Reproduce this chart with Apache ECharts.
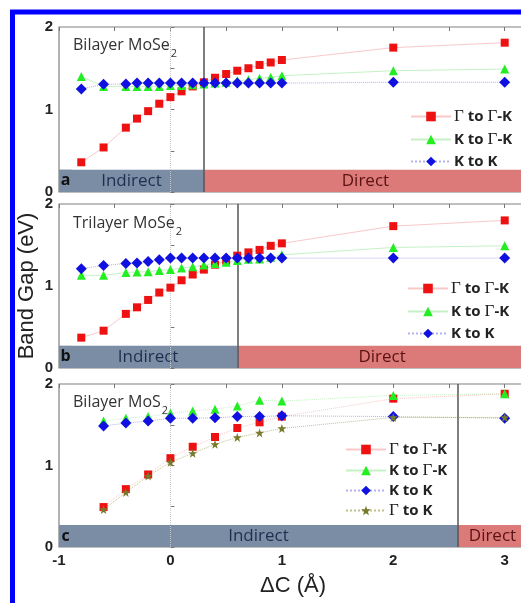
<!DOCTYPE html>
<html><head><meta charset="utf-8">
<script src="https://cdn.jsdelivr.net/npm/echarts@6/dist/echarts.min.js"></script>
<style>html,body{margin:0;padding:0;background:#fff}#c{width:521px;height:603px}</style>
</head><body><div id="c"></div>
<script>
// ---- data ----
const xMoSe2 = [-0.8,-0.6,-0.4,-0.3,-0.2,-0.1,0,0.1,0.2,0.3,0.4,0.5,0.6,0.7,0.8,0.9,1.0,2,3];
const aGG = [0.36,0.54,0.78,0.89,0.98,1.07,1.15,1.22,1.28,1.33,1.385,1.43,1.47,1.50,1.54,1.57,1.60,1.75,1.81];
const aKG = [1.40,1.28,1.28,1.28,1.28,1.28,1.29,1.29,1.30,1.31,1.32,1.33,1.35,1.36,1.38,1.39,1.41,1.47,1.49];
const aKK = [1.25,1.305,1.31,1.32,1.32,1.32,1.32,1.32,1.32,1.32,1.32,1.32,1.32,1.32,1.32,1.32,1.32,1.33,1.33];
const bGG = [0.37,0.455,0.66,0.74,0.83,0.92,0.98,1.07,1.14,1.20,1.26,1.31,1.37,1.41,1.44,1.49,1.52,1.73,1.80];
const bKG = [1.13,1.13,1.165,1.17,1.175,1.19,1.20,1.22,1.235,1.255,1.275,1.29,1.31,1.325,1.33,1.35,1.38,1.47,1.49];
const bKK = [1.21,1.25,1.275,1.28,1.30,1.32,1.34,1.34,1.34,1.34,1.34,1.34,1.34,1.34,1.34,1.34,1.34,1.34,1.34];
const xMoS2 = [-0.6,-0.4,-0.2,0,0.2,0.4,0.6,0.8,1.0,2,3];
const cGG = [0.49,0.71,0.89,1.09,1.23,1.35,1.46,1.53,1.60,1.82,1.88];
const cKG = [1.545,1.58,1.60,1.64,1.67,1.69,1.73,1.80,1.79,1.86,1.88];
const cKK = [1.485,1.52,1.545,1.58,1.58,1.585,1.60,1.60,1.61,1.60,1.58];
const cGK = [0.46,0.67,0.87,1.04,1.15,1.26,1.345,1.40,1.455,1.59,1.59];
const panelTitles = ['Bilayer MoSe', 'Trilayer MoSe', 'Bilayer MoS'];
const panelLetters = ['a', 'b', 'c'];
const boundaries = [0.3, 0.6, 2.58];
const bandTop = 0.27;
const xTicks = [-1, 0, 1, 2, 3];
const yTicks = [0, 1, 2];
const names = ['Γ to Γ-K', 'K to Γ-K', 'K to K', 'Γ to K'];

// ---- styles ----
const STAR = 'path://M0,-10L2.35,-3.24L9.51,-3.09L3.8,1.24L5.88,8.09L0,4L-5.88,8.09L-3.8,1.24L-9.51,-3.09L-2.35,-3.24Z';
const sty = {
  'Γ to Γ-K': {color:'#ee1111', line:'rgba(240,120,120,0.4)', symbol:'rect', size:8},
  'K to Γ-K': {color:'#22ee22', line:'rgba(110,220,110,0.4)', symbol:'triangle', size:9},
  'K to K':   {color:'#1010e0', line:'rgba(100,100,230,0.5)', symbol:'diamond', size:11},
  'Γ to K':   {color:'#777a2a', line:'rgba(150,150,70,0.6)', symbol:STAR, size:9}
};
const gridsPos = [{top:27,height:165},{top:204,height:164},{top:384,height:163}];
const FONT = 'Open Sans';

const grids = gridsPos.map(g => ({left:59, width:468, top:g.top, height:g.height, outerBoundsMode:'none', containLabel:false,
  show:true, borderColor:'#808080', borderWidth:1.2, backgroundColor:'transparent'}));
const xAxis = [], yAxis = [];
gridsPos.forEach((g, i) => {
  xAxis.push({type:'value', gridIndex:i, min:-1, max:3.2, interval:0.5, position:'bottom',
    axisLine:{show:false}, splitLine:{show:false},
    axisTick:{inside:true, length:4, lineStyle:{color:'#777'}},
    axisLabel:{show:i===2, margin:6, color:'#222', fontWeight:'bold', fontSize:15, fontFamily:'Liberation Sans',
      formatter: v => xTicks.includes(v) ? String(v) : ''},
    name: i===2 ? 'ΔC (Å)' : '', nameLocation:'middle', nameGap:28, nameMoveOverlap:false,
    nameTextStyle:{fontSize:22, color:'#222', fontFamily:'Liberation Sans'}});
  xAxis.push({type:'value', gridIndex:i, min:-1, max:3.2, interval:0.5, position:'top',
    axisLine:{show:false}, splitLine:{show:false}, axisLabel:{show:false},
    axisTick:{inside:true, length:4, lineStyle:{color:'#777'}}});
  yAxis.push({type:'value', gridIndex:i, min:0, max:2, interval:0.5,
    axisLine:{show:false}, splitLine:{show:false},
    axisTick:{inside:true, length:4, lineStyle:{color:'#777'}},
    axisLabel:{margin:6, color:'#222', fontWeight:'bold', fontSize:15, fontFamily:'Liberation Sans',
      formatter: v => yTicks.includes(v) ? String(v) : ''},
    name: i===1 ? 'Band Gap (eV)' : '', nameLocation:'middle', nameGap:21, nameMoveOverlap:false,
    nameTextStyle:{fontSize:22, color:'#222', fontFamily:'Liberation Sans'}});
});

const series = [];
function addSeries(name, gi, xs, ys, dotted) {
  const s = sty[name];
  series.push({name, type:'line', xAxisIndex:gi*2, yAxisIndex:gi, z:5,
    data: xs.map((x,k)=>[x, ys[k]]),
    symbol:s.symbol, symbolSize:s.size, showSymbol:true,
    itemStyle:{color:s.color},
    lineStyle:{color:s.line, width:1, type: dotted ? 'dotted' : 'solid'},
    emphasis:{disabled:true}, animation:false});
}
// decoration series (bands, boundary lines)
gridsPos.forEach((g, i) => {
  const b = boundaries[i];
  series.push({name:'deco'+i, type:'line', xAxisIndex:i*2, yAxisIndex:i, data:[], z:1, animation:false,
    markArea:{silent:true, data:[
      [{name:'Indirect', xAxis:-1, yAxis:0, itemStyle:{color:'#7b8da4', opacity:1},
        label:{color:'#1d2f4f'}}, {xAxis:b, yAxis:bandTop}],
      [{name:'Direct', xAxis:b, yAxis:0, itemStyle:{color:'#dc7a7a', opacity:1},
        label:{color:'#5a1212'}}, {xAxis:3.2, yAxis:bandTop}],
      [{name:panelLetters[i], xAxis:-1, yAxis:0, itemStyle:{color:'#7b8da4', opacity:1},
        label:{color:'#111', fontWeight:'bold', fontSize:16}}, {xAxis:-0.88, yAxis:bandTop}]
    ], label:{show:true, position:'inside', fontSize:17, fontFamily:FONT, formatter:'{b}'}},
    markLine:{silent:true, symbol:'none', label:{show:false}, data:[
      {xAxis:0, lineStyle:{color:'#c8c8c8', type:'dotted', width:1}},
      {xAxis:b, lineStyle:{color:'#555', type:'solid', width:1.5}}
    ]}
  });
});
['Γ to Γ-K','K to Γ-K','K to K'].forEach((n,k)=>addSeries(n, 0, xMoSe2, [aGG,aKG,aKK][k], n==='K to K'));
['Γ to Γ-K','K to Γ-K','K to K'].forEach((n,k)=>addSeries(n, 1, xMoSe2, [bGG,bKG,bKK][k], n==='K to K'));
['Γ to Γ-K','K to Γ-K','K to K','Γ to K'].forEach((n,k)=>addSeries(n, 2, xMoS2, [cGG,cKG,cKK,cGK][k], true));

const legFmt = n => n.replace(/Γ/g, '{g|Γ}');
const legRich = {g:{fontFamily:'Liberation Serif', fontSize:17, fontWeight:'normal', color:'#222'}};
function legend(left, top, data, gap) {
  return {orient:'vertical', left, top, data, itemWidth:40, itemHeight:12, itemGap:gap,
    selectedMode:false, formatter:legFmt,
    textStyle:{fontSize:15, fontWeight:'bold', color:'#222', fontFamily:FONT, rich:legRich, padding:[0,0,0,-2]}};
}

const titles = panelTitles.map((t, i) => ({
  text: t + '{s|2}', left: 68, top: [26, 204, 383][i],
  textStyle:{fontSize:16, fontWeight:'normal', color:'#333', fontFamily:FONT,
    rich:{s:{fontSize:11, color:'#333', fontFamily:FONT, padding:[17,0,0,1]}}}
}));

const chart = echarts.init(document.getElementById('c'), null, {renderer:'canvas'});
chart.setOption({
  animation:false,
  backgroundColor:'#fff',
  title: titles,
  grid: grids, xAxis, yAxis, series,
  legend:[
    legend(405, 103, names.slice(0,3), 6),
    legend(402, 275, names.slice(0,3), 6),
    legend(340, 436, names, 4)
  ],
  graphic:[{type:'rect', z:100, silent:true, shape:{x:12.5, y:12, width:700, height:800},
    style:{fill:'none', stroke:'#0000ff', lineWidth:5}}]
});
</script></body></html>
